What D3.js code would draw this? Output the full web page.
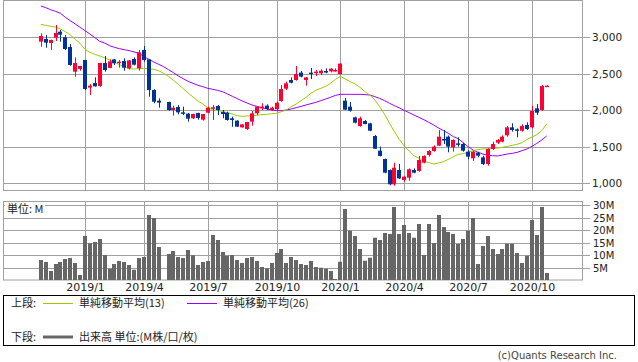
<!DOCTYPE html>
<html>
<head>
<meta charset="utf-8">
<script src="https://cdn.jsdelivr.net/npm/d3@7"></script>
<style>
  body { margin: 0; background: #fff; }
  svg { display: block; }
</style>
</head>
<body>
<svg width="638" height="362"></svg>
<script>
// weekly bars, first bar = week starting Mon 2018/11/5 (index 25 = golden week, no trading)
const startWeek = new Date(2018, 10, 5);

const open  = [2940,2977,2922,2995,3077,3000,2867,2528,2565,2688,2309,2373,2331,2647,2579,2697,2652,2675,2574,2702,2574,2826,2697,2277,2130,null,
  2112,2002,2043,1970,1952,1888,1961,1869,1965,2030,2057,1975,1965,1888,1856,1764,1741,1842,1956,2025,2062,2002,2011,2126,2295,2414,2414,2515,2414,2515,
  2515,2505,2537,2533,2537,2496,2130,2048,1901,1782,1851,1819,1645,1444,1329,1178,982,1178,1041,1073,1178,1165,1279,1384,1439,1512,1604,1636,1490,1544,
  1535,1430,1339,1416,1352,1261,1467,1554,1567,1654,1764,1737,1718,1796,1764,2025,2002,2322];
const high  = [3054,3031,2968,3169,3100,3031,2908,2725,2608,2692,2359,2450,2650,2743,2697,2702,2688,2711,2688,2725,2826,2881,2702,2286,2162,null,
  2116,2062,2071,2048,1961,1950,1965,1950,2048,2071,2071,2002,1979,1911,1860,1808,1840,1988,2057,2094,2080,2048,2116,2345,2391,2450,2606,2537,2455,2579,
  2551,2560,2574,2579,2574,2645,2167,2112,1911,1911,1865,1825,1659,1499,1335,1185,1279,1261,1090,1201,1201,1371,1380,1453,1517,1728,1728,1650,1599,1627,
  1554,1453,1444,1430,1375,1476,1567,1604,1654,1782,1819,1750,1805,1833,2057,2084,2345,2340];
const low   = [2871,2858,2826,2949,2940,2826,2611,2460,2542,2277,2208,2322,2322,2528,2575,2620,2583,2542,2560,2615,2542,2665,2185,2094,2034,null,
  1993,1924,1943,1933,1842,1879,1869,1856,1956,1865,1933,1888,1856,1773,1770,1760,1728,1787,1933,2002,2002,1993,2002,2116,2277,2368,2405,2450,2336,2428,
  2469,2482,2505,2519,2528,2490,2002,1979,1819,1773,1805,1712,1467,1365,1133,968,963,1055,1018,1032,1133,1156,1270,1361,1430,1510,1535,1421,1430,1499,
  1430,1325,1302,1352,1247,1238,1453,1535,1558,1636,1705,1627,1705,1728,1750,1933,1993,2318];
const close = [3018,2926,2963,3059,3036,2839,2620,2647,2606,2290,2336,2327,2647,2551,2670,2643,2665,2583,2684,2624,2794,2688,2277,2116,2103,null,
  2002,2034,1970,1956,1883,1947,1892,1947,2034,2039,2002,1947,1865,1865,1773,1805,1837,1956,2048,2048,2016,2034,2103,2290,2368,2377,2496,2460,2450,2505,
  2528,2542,2528,2569,2551,2638,2007,1993,1828,1888,1810,1718,1471,1371,1142,982,1210,1064,1087,1188,1142,1316,1371,1439,1499,1636,1590,1499,1590,1531,
  1444,1361,1430,1375,1261,1467,1535,1590,1636,1764,1728,1718,1782,1741,1988,1965,2331,2336];
// volume, million shares
const volume = [8.0,7.2,3.6,6.4,7.2,8.4,8.8,6.8,2.0,17.6,14.7,15.2,16.4,10.0,4.5,6.4,7.6,7.2,6.0,4.1,8.8,9.2,26.0,24.8,13.2,null,
  10.4,11.6,9.2,8.8,12.0,9.9,6.0,7.2,7.6,18.0,16.0,11.2,9.7,10.0,8.0,6.8,8.8,9.2,7.6,5.2,4.7,6.8,10.8,12.4,6.8,9.2,8.0,6.4,6.0,7.6,
  5.2,4.9,4.5,3.6,0.4,7.3,28.4,19.7,17.6,12.4,7.7,8.9,16.9,16.0,18.8,18.4,29.2,18.4,22.0,18.8,16.9,22.4,10.0,22.4,14.8,26.0,21.2,19.2,18.4,14.4,
  16.4,19.7,24.8,6.4,13.6,17.6,12.4,10.4,12.4,14.5,14.5,10.8,6.8,9.7,24.0,18.0,29.2,2.8];
// moving averages as drawn on the chart
const ma13 = [3178,3164,3151,3141,3114,3077,3032,2972,2917,2835,2794,2766,2743,2720,2688,2661,2624,2597,2569,2565,2569,2574,2569,2560,2542,2505,
  2464,2409,2354,2295,2235,2180,2126,2084,2034,2007,1997,1984,1965,1947,1924,1915,1920,1924,1929,1938,1943,1952,1956,1979,2002,2048,2084,2130,2176,2231,
  2272,2299,2327,2368,2423,2464,2428,2391,2359,2313,2254,2208,2139,2048,1943,1819,1705,1599,1508,1439,1375,1339,1302,1279,1261,1275,1293,1325,1361,1394,
  1403,1421,1444,1458,1467,1471,1476,1480,1490,1503,1517,1531,1554,1599,1631,1663,1718,1810];
const ma26 = [3430,3407,3379,3356,3329,3274,3228,3183,3137,3091,3045,2995,2945,2922,2885,2862,2844,2830,2817,2798,2780,2734,2698,2661,2629,2597,
  2556,2515,2469,2432,2396,2368,2341,2322,2299,2286,2272,2254,2222,2190,2158,2126,2098,2071,2052,2034,2016,2002,1993,1993,2002,2016,2034,2052,2071,2089,
  2107,2130,2153,2176,2203,2217,2217,2217,2217,2217,2213,2208,2185,2162,2130,2094,2062,2030,1997,1965,1933,1901,1869,1833,1796,1755,1718,1682,1636,1609,
  1554,1499,1453,1421,1398,1380,1375,1371,1384,1398,1407,1421,1444,1467,1503,1544,1590,1645];

const priceTicks = [1000, 1500, 2000, 2500, 3000];
const volTicks = [5, 10, 15, 20, 25, 30];
const monthLabels = ['2019/1', '2019/4', '2019/7', '2019/10', '2020/1', '2020/4', '2020/7', '2020/10'];

const UP = '#ff0033', DOWN = '#003399', GRID = '#a0a0a0';
const LATIN = '"DejaVu Sans", sans-serif';
const JP = '"Noto Sans CJK JP", sans-serif';

const weeks = d3.timeMonday.range(startWeek, d3.timeMonday.offset(startWeek, open.length));
const WEEK = 7 * 864e5;

const svg = d3.select('svg');

const x = d3.scaleTime()
  .domain([new Date(+startWeek - 7.7 * WEEK), new Date(+startWeek + 110.4 * WEEK)])
  .range([3, 583]);
const y = d3.scaleLinear().domain([1000, 3000]).range([183, 37.3]);
const yv = d3.scaleLinear().domain([0, 30]).range([280, 205]);

const px = d => Math.round(x(d));
const monthTicks = monthLabels.map(s => d3.timeMonday.ceil(d3.timeParse('%Y/%m')(s)));

// ---- grid, upper panel
const g = svg.append('g');
g.selectAll('.hg').data(priceTicks).join('line')
  .attr('x1', 3).attr('x2', 590)
  .attr('y1', d => Math.round(y(d)) + 0.5).attr('y2', d => Math.round(y(d)) + 0.5)
  .attr('stroke', GRID);
g.selectAll('.vg').data(monthTicks).join('line')
  .attr('x1', d => px(d) + 0.5).attr('x2', d => px(d) + 0.5)
  .attr('y1', 0).attr('y2', 190)
  .attr('stroke', GRID);
g.append('rect').attr('x', 3.5).attr('y', 0.5).attr('width', 579).attr('height', 190)
  .attr('fill', 'none').attr('stroke', GRID);
g.selectAll('.pl').data(priceTicks).join('text')
  .attr('x', 592).attr('y', d => y(d) + 4)
  .attr('font-family', LATIN).attr('font-size', 10.5).attr('fill', '#222')
  .text(d3.format(','));

// ---- moving averages
const line = arr => d3.line()
  .x((d, i) => x(weeks[i]))
  .y(d => y(d))(arr);
svg.append('path').attr('d', line(ma26)).attr('fill', 'none').attr('stroke', '#9900ff').attr('stroke-width', 1);
svg.append('path').attr('d', line(ma13)).attr('fill', 'none').attr('stroke', '#99cc00').attr('stroke-width', 1);

// ---- candles
const idx = d3.range(open.length).filter(i => open[i] != null);
const candle = svg.append('g').selectAll('g').data(idx).join('g');
candle.append('rect')
  .attr('x', i => px(weeks[i]))
  .attr('width', 1)
  .attr('y', i => y(high[i]))
  .attr('height', i => Math.max(1, y(low[i]) - y(high[i])))
  .attr('fill', i => close[i] >= open[i] ? UP : DOWN);
candle.append('rect')
  .attr('x', i => px(weeks[i]) - 2)
  .attr('width', 4)
  .attr('y', i => y(Math.max(open[i], close[i])))
  .attr('height', i => Math.max(1.5, Math.abs(y(open[i]) - y(close[i]))))
  .attr('fill', i => close[i] >= open[i] ? UP : DOWN);

// ---- volume panel
const gv = svg.append('g');
gv.selectAll('.hg').data(volTicks).join('line')
  .attr('x1', 3).attr('x2', 590)
  .attr('y1', d => Math.round(yv(d)) + 0.5).attr('y2', d => Math.round(yv(d)) + 0.5)
  .attr('stroke', GRID);
gv.selectAll('.vg').data(monthTicks).join('line')
  .attr('x1', d => px(d) + 0.5).attr('x2', d => px(d) + 0.5)
  .attr('y1', 201).attr('y2', 280)
  .attr('stroke', GRID);
gv.append('rect').attr('x', 3.5).attr('y', 201.5).attr('width', 579).attr('height', 78.5)
  .attr('fill', 'none').attr('stroke', GRID);
gv.selectAll('.bar').data(idx).join('rect')
  .attr('x', i => px(weeks[i]) - 2)
  .attr('width', 4)
  .attr('y', i => yv(volume[i]))
  .attr('height', i => 280 - yv(volume[i]))
  .attr('fill', '#666');
gv.selectAll('.vl').data(volTicks).join('text')
  .attr('x', 593).attr('y', d => yv(d) + 4)
  .attr('font-family', LATIN).attr('font-size', 10).attr('fill', '#222')
  .text(d => d + 'M');
gv.append('rect').attr('x', 5).attr('y', 203).attr('width', 40).attr('height', 11).attr('fill', '#fff');
gv.append('text').attr('x', 7).attr('y', 213)
  .attr('font-family', JP).attr('font-size', 11).attr('fill', '#222')
  .text('単位: M');

// month labels
svg.selectAll('.ml').data(monthTicks).join('text')
  .attr('x', d => px(d) + 0.5).attr('y', 291)
  .attr('text-anchor', 'middle')
  .attr('font-family', LATIN).attr('font-size', 11).attr('fill', '#222')
  .text((d, i) => monthLabels[i]);

// ---- legend
const lg = svg.append('g').attr('font-family', JP).attr('font-size', 11).attr('fill', '#222');
lg.append('rect').attr('x', 3.5).attr('y', 295.5).attr('width', 631).attr('height', 50)
  .attr('fill', 'none').attr('stroke', '#000');
lg.append('text').attr('x', 11).attr('y', 307).text('上段:');
lg.append('line').attr('x1', 43).attr('x2', 73).attr('y1', 303.5).attr('y2', 303.5).attr('stroke', '#99cc00');
lg.append('text').attr('x', 79).attr('y', 307).text('単純移動平均(13)');
lg.append('line').attr('x1', 187).attr('x2', 217).attr('y1', 303.5).attr('y2', 303.5).attr('stroke', '#9900ff');
lg.append('text').attr('x', 223).attr('y', 307).text('単純移動平均(26)');
lg.append('text').attr('x', 11).attr('y', 341).text('下段:');
lg.append('line').attr('x1', 43).attr('x2', 73).attr('y1', 337).attr('y2', 337).attr('stroke', '#666').attr('stroke-width', 3);
lg.append('text').attr('x', 79).attr('y', 341).text('出来高 単位:(M株/口/枚)');

svg.append('text').attr('x', 617).attr('y', 359).attr('text-anchor', 'end')
  .attr('font-family', LATIN).attr('font-size', 10).attr('fill', '#444')
  .text('(c)Quants Research Inc.');
</script>
</body>
</html>
